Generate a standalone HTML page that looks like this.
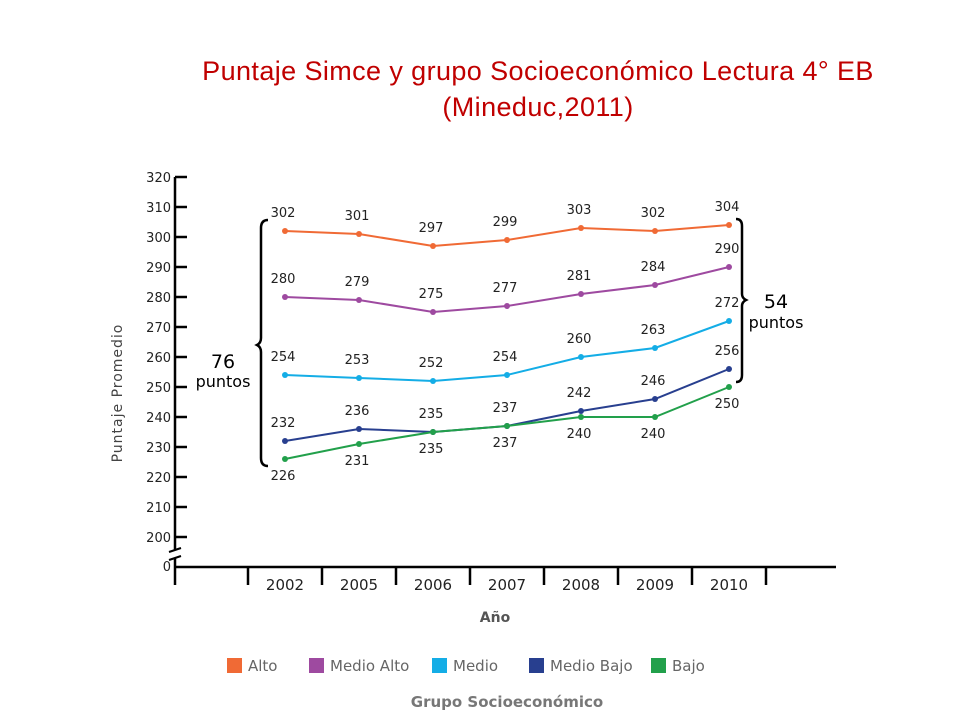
<!DOCTYPE html>
<html><head><meta charset="utf-8"><style>
body{margin:0;background:#fff;}
svg text{font-family:"DejaVu Sans","Liberation Sans",sans-serif;}
</style></head><body>
<svg id="chart" width="960" height="720" xmlns="http://www.w3.org/2000/svg">
<text x="538" y="80" text-anchor="middle" font-size="27" letter-spacing="0.4" fill="#c00000" style="font-family:'Liberation Sans',sans-serif">Puntaje Simce y grupo Socioeconómico Lectura 4° EB</text>
<text x="538" y="116" text-anchor="middle" font-size="27" letter-spacing="0.4" fill="#c00000" style="font-family:'Liberation Sans',sans-serif">(Mineduc,2011)</text>
<g id="axes"></g>
<g id="series"></g>
<g id="annot"></g>
</svg>
<script>
const years = ["2002","2005","2006","2007","2008","2009","2010"];
const seriesNames = ["Alto","Medio Alto","Medio","Medio Bajo","Bajo"];
const colors = ["#f06a35","#9e4aa0","#14ade6","#283f8f","#22a04b"];
const alto = [302,301,297,299,303,302,304];
const medioAlto = [280,279,275,277,281,284,290];
const medio = [254,253,252,254,260,263,272];
const medioBajo = [232,236,235,237,242,246,256];
const bajo = [226,231,235,237,240,240,250];
const yTicks = [200,210,220,230,240,250,260,270,280,290,300,310,320];
const allSeries = [alto, medioAlto, medio, medioBajo, bajo];
const labelBelow = [false,false,false,false,true];

const NS = "http://www.w3.org/2000/svg";
function mk(tag, attrs, parent, txt){const e=document.createElementNS(NS,tag);for(const k in attrs)e.setAttribute(k,attrs[k]);if(txt!==undefined)e.textContent=txt;parent.appendChild(e);return e;}
const yScale = v => 237 - (v-300)*3;
const xScale = i => 285 + i*74;

const axes = document.getElementById('axes');
let e;
e = mk('line',{x1:175,y1:177,x2:175,y2:550,stroke:'#000','stroke-width':2.5},axes);
 
e = mk('line',{x1:175,y1:558,x2:175,y2:585,stroke:'#000','stroke-width':2.5},axes);
 
e = mk('path',{d:'M169 552 L181 548 M169 560 L181 556',stroke:'#000','stroke-width':2,fill:'none'},axes);
 
yTicks.forEach(t=>{
  const y=yScale(t);
  e = mk('line',{x1:175,y1:y,x2:187,y2:y,stroke:'#000','stroke-width':2.5},axes);
   
  e = mk('text',{x:171,y:y+5,'text-anchor':'end','font-size':13,fill:'#222'},axes,String(t));
   
});
e = mk('text',{x:171,y:571,'text-anchor':'end','font-size':13,fill:'#222'},axes,'0');
 
e = mk('line',{x1:175,y1:567,x2:836,y2:567,stroke:'#000','stroke-width':2.5},axes);
 
for(let i=0;i<=years.length;i++){
  const x = xScale(i)-37;
  e = mk('line',{x1:x,y1:567,x2:x,y2:585,stroke:'#000','stroke-width':2.5},axes);
   
}
years.forEach((yr,i)=>{
  e = mk('text',{x:xScale(i),y:590,'text-anchor':'middle','font-size':15,fill:'#222'},axes,yr);
   
});
e = mk('text',{x:495,y:622,'text-anchor':'middle','font-size':14,'font-weight':'bold',fill:'#555'},axes,'Año');
 
e = mk('text',{x:122,y:393,'text-anchor':'middle','font-size':14,fill:'#444','letter-spacing':'1',transform:'rotate(-90 122 393)'},axes,'Puntaje Promedio');
 

const sg = document.getElementById('series');
allSeries.forEach((vals,s)=>{
  const g = mk('g',{},sg);
  
  
  const pts = vals.map((v,i)=>xScale(i)+','+yScale(v)).join(' ');
  e = mk('polyline',{points:pts,fill:'none',stroke:colors[s],'stroke-width':2},g);
   
  vals.forEach((v,i)=>{
    e = mk('circle',{cx:xScale(i),cy:yScale(v),r:3,fill:colors[s]},g);
     
    const ly = labelBelow[s] ? yScale(v)+21 : yScale(v)-14;
    e = mk('text',{x:xScale(i)-2,y:ly,'text-anchor':'middle','font-size':13,fill:'#222'},g,String(v));
     
  });
});

const an = document.getElementById('annot');
e = mk('path',{d:'M268 220 Q261 220 261 228 L261 338 Q261 343 257 345 Q261 347 261 352 L261 458 Q261 466 268 466',fill:'none',stroke:'#000','stroke-width':2.5},an);
 
e = mk('text',{x:223,y:368,'text-anchor':'middle','font-size':19,fill:'#000'},an,'76');
 
e = mk('text',{x:223,y:387,'text-anchor':'middle','font-size':16,fill:'#000'},an,'puntos');
 
e = mk('path',{d:'M736 219 Q742 219 742 226 L742 294 Q742 298 746 300 Q742 302 742 306 L742 375 Q742 382 736 382',fill:'none',stroke:'#000','stroke-width':2.5},an);
 
e = mk('text',{x:776,y:308,'text-anchor':'middle','font-size':19,fill:'#000'},an,'54');
 
e = mk('text',{x:776,y:328,'text-anchor':'middle','font-size':16,fill:'#000'},an,'puntos');
 

const legX = [227,309,432,529,651];
seriesNames.forEach((n,s)=>{
  const g = mk('g',{},an);
   
  e = mk('rect',{x:legX[s],y:658,width:15,height:15,fill:colors[s]},g);
   
  e = mk('text',{x:legX[s]+21,y:671,'font-size':15,fill:'#666'},g,n);
   
});
e = mk('text',{x:507,y:707,'text-anchor':'middle','font-size':15,'font-weight':'bold',fill:'#777'},an,'Grupo Socioeconómico');
 
</script>
</body></html>
